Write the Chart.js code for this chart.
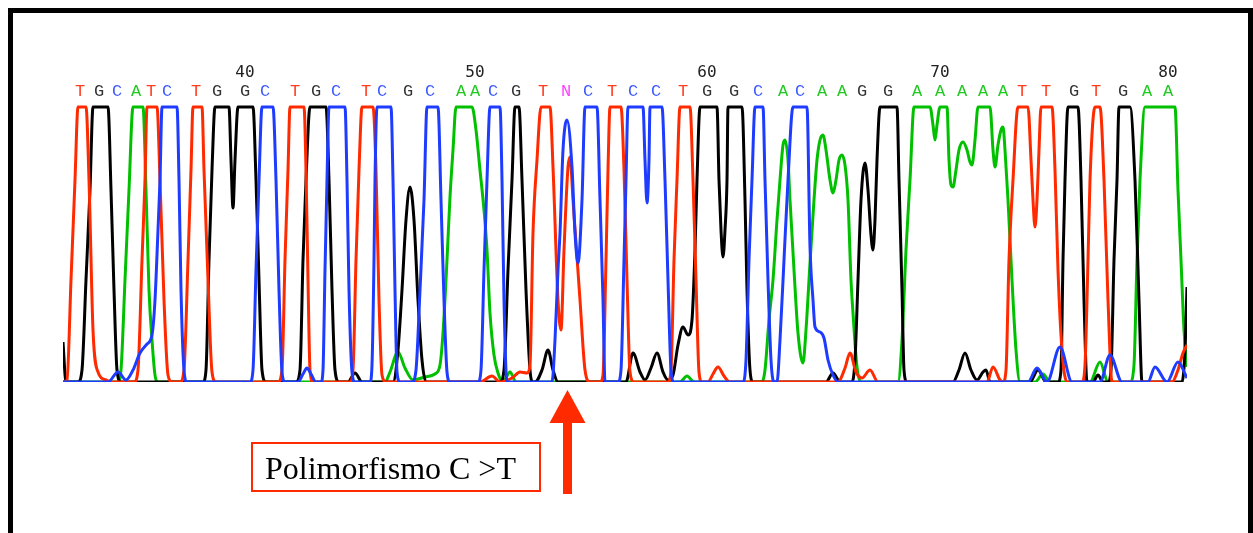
<!DOCTYPE html>
<html lang="es">
<head>
<meta charset="utf-8">
<title>Electroferograma - Polimorfismo C &gt;T</title>
<script src="https://cdn.jsdelivr.net/npm/chart.js@4.4.1/dist/chart.umd.min.js"></script>
<style>
    html, body { margin: 0; padding: 0; background: #fff; }
    body { width: 1253px; height: 533px; position: relative; overflow: hidden; }
    #marco {
        position: absolute; left: 8px; top: 8px;
        width: 1235px; height: 540px;
        border: 5px solid #000; border-bottom: none;
    }
    #grafico { position: absolute; left: 0; top: 0; }
</style>
</head>
<body>
<div id="marco"></div>
<canvas id="grafico" width="1253" height="533"></canvas>
<script>
// ═══════════════════════════════════════════
// DATOS DEL ELECTROFEROGRAMA (scan, señal)
// ═══════════════════════════════════════════

// Secuencia leída y posición (en scans) de cada base
const bases = 'TGCATCTGGCTGCTCGCAACGTNCTCCTGGCACAAGGAAAAATTGTGAA'.split('');
const posicionesBases = [
    20, 39, 57, 76, 91, 107, 136, 157, 185, 205,
    235, 256, 276, 306, 322, 348, 370, 401, 415, 433,
    456, 483, 506, 528, 552, 573, 596, 623, 647, 674,
    698, 723, 740, 762, 782, 802, 828, 857, 880, 902,
    923, 943, 962, 986, 1014, 1036, 1063, 1087, 1108
];
const primeraBase = 32;
const numerosEje = [40, 50, 60, 70, 80];

// Trazas: [scan, intensidad]
const trazaC = [
    [3, 0], [48, 0], [58, 40], [66, 8], [73, 48], [80, 116], [87, 152], [92, 188], [95, 328], [98, 608],
    [100, 808], [102, 1100], [117, 1100], [119, 808], [121, 368], [124, 48], [127, 0],
    [190, 0], [193, 48], [196, 448], [199, 808], [202, 1100], [213, 1100], [216, 808], [219, 368], [222, 40], [225, 0],
    [238, 0], [243, 32], [247, 56], [251, 32], [256, 0],
    [261, 0], [263, 48], [265, 448], [267, 808], [269, 1100], [285, 1100], [287, 808], [289, 368], [292, 40], [295, 0],
    [310, 0], [312, 68], [314, 488], [315, 808], [317, 1100], [331, 1100], [333, 808], [335, 368], [337, 40], [340, 0],
    [352, 0], [356, 48], [360, 368], [364, 728], [367, 1100], [378, 1100], [381, 728], [384, 328], [387, 40], [390, 0],
    [418, 0], [421, 48], [424, 448], [427, 808], [430, 1100], [440, 1100], [442, 808], [444, 328], [447, 0],
    [492, 0], [495, 168], [498, 448], [500, 596], [503, 928], [507, 1048], [512, 860], [515, 596], [518, 476],
    [522, 728], [525, 1100], [537, 1100], [540, 728], [543, 328], [545, 0],
    [558, 0], [561, 48], [564, 488], [566, 808], [568, 1100], [583, 1100], [585, 888], [587, 716], [589, 888],
    [590, 1100], [602, 1100], [605, 808], [608, 408], [611, 48], [614, 0],
    [683, 0], [686, 88], [689, 488], [692, 808], [695, 1100], [703, 1100], [705, 808], [708, 408], [711, 88], [714, 0],
    [717, 0], [720, 168], [724, 488], [728, 808], [733, 1100], [747, 1100], [750, 540], [753, 328], [755, 220],
    [760, 200], [764, 176], [768, 88], [773, 28], [778, 0],
    [968, 0], [977, 56], [987, 0], [1000, 140], [1012, 0], [1040, 0], [1050, 108], [1062, 0],
    [1088, 0], [1095, 60], [1107, 0], [1118, 80], [1127, 16]
];

const trazaG = [
    [3, 160], [6, 0], [18, 0], [22, 48], [26, 408], [30, 768], [33, 1100], [48, 1100], [51, 768], [54, 368], [57, 48], [61, 0],
    [143, 0], [146, 48], [149, 488], [152, 848], [155, 1100], [169, 1100], [171, 888], [173, 696], [175, 888],
    [178, 1100], [193, 1100], [196, 808], [199, 408], [202, 48], [206, 0],
    [236, 0], [240, 48], [243, 488], [246, 808], [250, 1100], [266, 1100], [269, 808], [272, 368], [275, 48], [279, 0],
    [288, 0], [295, 36], [302, 0],
    [333, 0], [338, 128], [342, 368], [346, 648], [350, 780], [354, 648], [358, 328], [362, 88], [366, 0],
    [440, 0], [444, 48], [448, 448], [452, 808], [455, 1100], [459, 1100], [462, 808], [466, 368], [470, 48], [473, 0],
    [475, 0], [482, 48], [488, 128], [493, 48], [498, 0],
    [566, 0], [573, 116], [580, 40], [585, 8], [591, 56], [597, 116], [603, 40], [608, 8], [613, 28], [618, 148],
    [623, 220], [628, 188], [632, 248], [635, 528], [637, 808], [640, 1100], [657, 1100], [659, 808], [661, 608],
    [663, 500], [665, 608], [667, 808], [668, 1100], [682, 1100], [685, 728], [687, 368], [690, 48], [693, 0],
    [766, 0], [773, 36], [780, 0],
    [792, 0], [795, 88], [798, 408], [801, 728], [805, 876], [808, 768], [811, 588], [813, 528], [815, 648],
    [817, 888], [820, 1100], [837, 1100], [839, 808], [842, 368], [844, 48], [847, 0],
    [893, 0], [899, 48], [905, 116], [911, 48], [917, 8], [923, 40], [926, 48], [930, 0],
    [970, 0], [978, 48], [986, 0],
    [998, 0], [1001, 48], [1003, 488], [1005, 808], [1008, 1100], [1018, 1100], [1021, 808], [1024, 328], [1027, 0],
    [1033, 0], [1038, 28], [1043, 0],
    [1048, 0], [1051, 48], [1054, 488], [1057, 808], [1059, 1100], [1070, 1100], [1075, 808], [1079, 328], [1082, 0],
    [1122, 0], [1125, 128], [1127, 380]
];

const trazaT = [
    [3, 0], [7, 8], [11, 408], [15, 808], [18, 1100], [26, 1100], [29, 808], [33, 208], [38, 40], [46, 8], [52, 0],
    [74, 0], [78, 48], [82, 488], [85, 808], [87, 1100], [97, 1100], [100, 808], [104, 328], [108, 28], [112, 0],
    [120, 0], [124, 48], [128, 488], [131, 848], [133, 1100], [142, 1100], [144, 848], [148, 408], [152, 40], [156, 0],
    [218, 0], [222, 48], [225, 488], [228, 848], [230, 1100], [244, 1100], [246, 848], [248, 408], [250, 48], [253, 0],
    [290, 0], [293, 48], [296, 488], [299, 848], [302, 1100], [313, 1100], [316, 848], [319, 328], [322, 28], [326, 0],
    [420, 0], [432, 24], [440, 0], [452, 16], [460, 40], [467, 36],
    [470, 68], [473, 596], [477, 888], [481, 1100], [490, 1100], [493, 860], [498, 328], [501, 208], [504, 528],
    [508, 860], [510, 900], [513, 728], [520, 328], [525, 48], [530, 0],
    [540, 0], [543, 28], [546, 488], [548, 848], [550, 1100], [561, 1100], [564, 848], [567, 408], [570, 40], [574, 0],
    [608, 0], [611, 48], [614, 488], [617, 808], [620, 1100], [630, 1100], [633, 808], [636, 408], [639, 40], [642, 0],
    [648, 0], [653, 32], [658, 60], [664, 24], [670, 0],
    [778, 0], [785, 56], [790, 116], [796, 40], [802, 16], [810, 48], [818, 0],
    [927, 0], [933, 60], [940, 8],
    [943, 0], [946, 48], [949, 488], [953, 808], [958, 1100], [968, 1100], [971, 888], [973, 728], [975, 620],
    [977, 728], [979, 928], [981, 1100], [992, 1100], [995, 848], [998, 448], [1002, 128], [1007, 0],
    [1022, 0], [1025, 68], [1028, 488], [1030, 808], [1035, 1100], [1040, 1100], [1044, 808], [1048, 328], [1052, 0],
    [1112, 0], [1118, 48], [1123, 116], [1127, 148]
];

const trazaA = [
    [3, 0], [58, 0], [61, 48], [65, 408], [69, 768], [73, 1100], [83, 1100], [86, 768], [89, 368], [92, 168], [95, 28], [98, 0],
    [325, 0], [330, 40], [338, 120], [345, 56], [353, 8], [365, 20], [375, 32], [380, 68], [383, 196], [387, 488],
    [390, 740], [393, 928], [396, 1100], [412, 1100], [416, 1008], [420, 848], [424, 688], [427, 528], [430, 276],
    [434, 108], [438, 36], [443, 0], [450, 40], [456, 0],
    [620, 0], [627, 24], [634, 0],
    [702, 0], [705, 48], [709, 248], [713, 408], [717, 648], [720, 808], [723, 948], [725, 968], [728, 888], [730, 728],
    [734, 448], [738, 196], [743, 76], [746, 208], [750, 476], [754, 728], [757, 888], [760, 968], [763, 988],
    [766, 928], [770, 808], [773, 756], [776, 808], [779, 888], [782, 908], [785, 868], [788, 728], [791, 408],
    [793, 276], [797, 60], [801, 0],
    [838, 0], [842, 168], [846, 528], [850, 808], [854, 1100], [870, 1100], [873, 1028], [875, 968], [877, 1028],
    [880, 1100], [887, 1100], [889, 888], [891, 788], [893, 780], [896, 848], [899, 928], [903, 960], [907, 928],
    [910, 880], [912, 868], [915, 968], [918, 1100], [930, 1100], [933, 928], [935, 860], [938, 948], [941, 1008],
    [943, 1020], [945, 928], [948, 728], [952, 408], [956, 128], [960, 0],
    [975, 0], [983, 32], [990, 0], [1030, 0], [1040, 80], [1048, 0],
    [1070, 0], [1074, 68], [1077, 488], [1080, 808], [1085, 1100], [1115, 1100], [1118, 768], [1121, 488],
    [1124, 208], [1127, 60]
];

// Colores por base
const coloresTraza = { A: '#00c000', C: '#1e3cff', G: '#000000', T: '#ff2a00' };
const coloresLetra = { A: '#22c822', C: '#3c5aff', G: '#333333', T: '#ff3c1e', N: '#ff40ff' };

function aPuntos(traza) {
    return traza.map(p => ({ x: p[0], y: p[1] }));
}

function crearTraza(nombre, traza) {
    return {
        label: nombre,
        data: aPuntos(traza),
        borderColor: coloresTraza[nombre],
        borderWidth: 3,
        pointRadius: 0,
        fill: false,
        cubicInterpolationMode: 'monotone'
    };
}

// ═══════════════════════════════════════════
// PLUGIN: letras, numeración y flecha
// ═══════════════════════════════════════════
const etiquetasPlugin = {
    id: 'etiquetas',
    afterDatasetsDraw(chart) {
        const { ctx, chartArea, scales: { x } } = chart;
        ctx.save();
        ctx.textAlign = 'center';
        ctx.textBaseline = 'middle';

        bases.forEach((b, i) => {
            const px = x.getPixelForValue(posicionesBases[i]);
            ctx.font = '17px "Liberation Mono", monospace';
            ctx.fillStyle = coloresLetra[b];
            ctx.fillText(b, px, chartArea.top - 13);

            const num = primeraBase + i;
            if (numerosEje.includes(num)) {
                ctx.font = '16px "DejaVu Sans Mono", monospace';
                ctx.fillStyle = '#222';
                ctx.fillText(String(num), px, chartArea.top - 31);
            }
        });

        // Flecha hacia la base N
        const iN = bases.indexOf('N');
        const fx = x.getPixelForValue(posicionesBases[iN]) + 1.5;
        const base = chartArea.bottom;
        ctx.fillStyle = '#ff2a00';
        ctx.beginPath();
        ctx.moveTo(fx, base + 8);
        ctx.lineTo(fx + 18, base + 41);
        ctx.lineTo(fx - 18, base + 41);
        ctx.closePath();
        ctx.fill();
        ctx.fillRect(fx - 4.5, base + 40, 9, 72);

        // Recuadro con el texto
        ctx.strokeStyle = '#ff2a00';
        ctx.lineWidth = 2;
        ctx.strokeRect(252, 443, 288, 48);
        ctx.fillStyle = '#000';
        ctx.textAlign = 'left';
        ctx.textBaseline = 'alphabetic';
        ctx.font = '32px "Liberation Serif", serif';
        ctx.fillText('Polimorfismo C >T', 265, 479);

        ctx.restore();
    }
};

// ═══════════════════════════════════════════
// GRÁFICA
// ═══════════════════════════════════════════
const ctxGrafico = document.getElementById('grafico').getContext('2d');
new Chart(ctxGrafico, {
    type: 'line',
    data: {
        datasets: [
            crearTraza('C', trazaC),
            crearTraza('T', trazaT),
            crearTraza('G', trazaG),
            crearTraza('A', trazaA)
        ]
    },
    options: {
        responsive: false,
        animation: false,
        devicePixelRatio: 1,
        layout: { padding: { left: 63, right: 66, top: 104, bottom: 151 } },
        plugins: {
            legend: { display: false },
            tooltip: { enabled: false }
        },
        scales: {
            x: { type: 'linear', min: 3, max: 1127, display: false },
            y: { min: 0, max: 1112, display: false }
        }
    },
    plugins: [etiquetasPlugin]
});
</script>
</body>
</html>
